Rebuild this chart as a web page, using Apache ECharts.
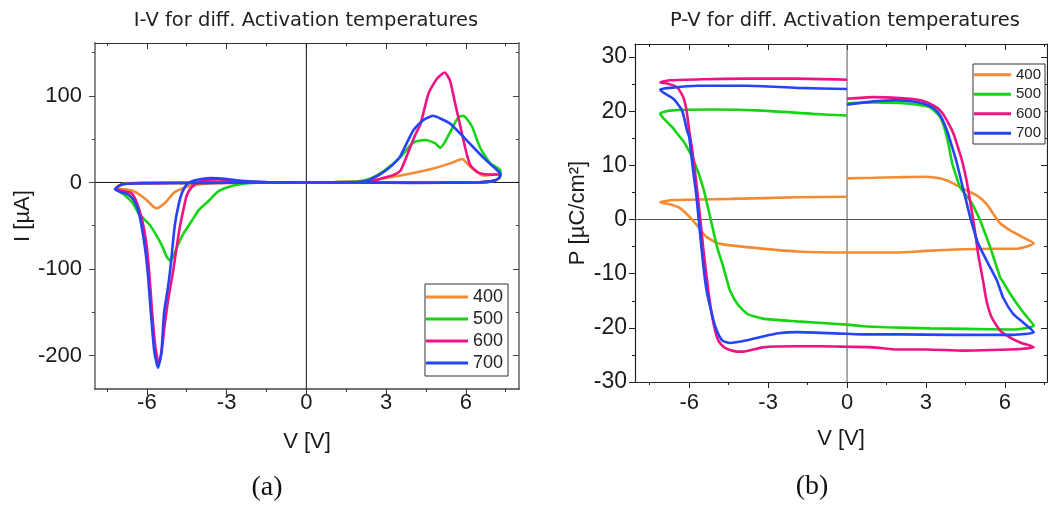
<!DOCTYPE html>
<html><head><meta charset="utf-8">
<script src="https://cdn.jsdelivr.net/npm/echarts@6/dist/echarts.min.js"></script>
<style>html,body{margin:0;padding:0;background:#fff}#c{width:1048px;height:507px}</style>
</head><body><div id="c"></div>
<script>
// ---------- data ----------
const legendNames = ['400', '500', '600', '700'];
const seriesColors = ['#f58a34', '#14d414', '#ef1283', '#2444f5'];

const ivXTicks = [-6, -3, 0, 3, 6];
const ivXMinor = [-7.5, -4.5, -1.5, 1.5, 4.5, 7.5];
const ivYTicks = [-200, -100, 0, 100];
const ivYMinor = [-150, -50, 50, 150];
const ivXRange = [-7.95, 8.0];
const ivYRange = [-238.5, 161];

const pvXTicks = [-6, -3, 0, 3, 6];
const pvXMinor = [-7.5, -4.5, -1.5, 1.5, 4.5, 7.5];
const pvYTicks = [-30, -20, -10, 0, 10, 20, 30];
const pvYMinor = [-25, -15, -5, 5, 15, 25];
const pvXRange = [-8.06, 7.6];
const pvYRange = [-30, 32.4];

// I-V loops [V, I(uA)]
const iv400 = [[0,0],[1,0.3],[2,0.8],[2.5,2],[2.9,5],[3.53,8],[4.2,12],[4.77,16],[5.41,22],[5.86,27],[6.17,18],[6.65,8],[7.0,9],[7.3,10],[7.25,5],[7.0,1.5],[6.5,0.5],[5,0],[3,-0.3],[1,0],[0,0],[-1,0],[-2,-0.2],[-3,-0.3],[-4,-0.5],[-5,-0.5],[-6,-0.5],[-6.5,-0.8],[-6.9,-1.5],[-7.1,-4.5],[-7.15,-7],[-6.8,-8],[-6.44,-11],[-6.1,-18],[-5.92,-23],[-5.75,-28],[-5.62,-30],[-5.45,-27],[-5.3,-23],[-5.1,-16],[-4.94,-11],[-4.57,-6],[-4.3,-3.5],[-3.5,-1],[-2,0],[0,0]];
const iv500 = [[0,0],[1,0.2],[1.6,0.6],[2.0,1.5],[2.45,5],[2.95,14],[3.53,29],[4.02,46],[4.47,49],[4.85,45],[5.04,40],[5.2,46],[5.41,58],[5.71,75],[5.9,77],[6.05,73],[6.24,64],[6.54,40],[6.92,22],[7.3,14],[7.3,10],[7.25,5],[7.0,1.5],[6.5,0],[5,-0.3],[3,0],[1,0],[0,0],[-1,0],[-2,-0.3],[-3,-0.3],[-4,-0.5],[-5,-0.5],[-6,-0.8],[-6.5,-1],[-6.9,-2],[-7.1,-5],[-7.15,-8],[-6.9,-13],[-6.55,-23],[-6.3,-36],[-5.92,-48],[-5.7,-58],[-5.43,-73],[-5.25,-86],[-5.13,-90],[-5.0,-85],[-4.8,-70],[-4.6,-58],[-4.3,-44],[-4.05,-32],[-3.7,-22],[-3.3,-10],[-2.8,-4],[-2.2,-1],[-1.5,0],[0,0]];
const iv600 = [[0,0],[1,0.3],[2,0.5],[2.5,2],[2.9,5],[3.3,9],[3.55,14],[3.9,40],[4.1,55],[4.3,68],[4.6,103],[4.92,120],[5.2,127],[5.4,118],[5.6,91],[5.8,64],[6.0,37],[6.17,20],[6.5,11],[7.0,9],[7.3,9.5],[7.25,5],[7.0,1.5],[6.5,0.2],[5,0],[3,-0.3],[1,0],[0,0],[-1,-0.2],[-2,-0.3],[-3,-0.5],[-4,-0.5],[-5,-0.7],[-6,-0.8],[-6.5,-1],[-6.9,-2],[-7.1,-5],[-7.15,-8],[-6.9,-10],[-6.6,-12],[-6.45,-18],[-6.3,-30],[-6.15,-47],[-6.02,-70],[-5.92,-100],[-5.8,-150],[-5.68,-190],[-5.55,-209],[-5.45,-197],[-5.35,-170],[-5.2,-136],[-5.0,-100],[-4.88,-75],[-4.75,-50],[-4.6,-28],[-4.5,-15],[-4.3,-5],[-4.0,1],[-3.7,3.2],[-3.3,3.5],[-2.8,2.5],[-2.2,1],[-1.5,0.3],[0,0]];
const iv700 = [[0,0],[1.5,0],[2.2,1],[2.7,8],[3.0,14],[3.3,22],[3.53,30],[4.02,60],[4.4,72],[4.77,77],[5.1,73],[5.41,68],[6.05,48],[6.65,29],[7.18,14],[7.3,10],[7.25,5],[7.0,1.5],[6.5,0],[4,-0.5],[2,0],[0,0],[-2,0],[-4,-0.5],[-6,-1],[-6.9,-2],[-7.1,-5],[-7.2,-8],[-7.0,-11],[-6.7,-14],[-6.5,-20],[-6.35,-30],[-6.2,-50],[-6.05,-80],[-5.95,-110],[-5.85,-150],[-5.72,-195],[-5.58,-214],[-5.45,-195],[-5.35,-150],[-5.2,-120],[-5.1,-95],[-4.95,-50],[-4.8,-25],[-4.65,-10],[-4.45,-1],[-4.1,3],[-3.6,5],[-3.0,4],[-2.5,2],[-1.5,0.5],[0,0]];

// P-V loops [V, P(uC/cm2)]
const pv400 = [[0,7.6],[1,7.7],[1.9,7.8],[2.9,7.9],[3.4,7.7],[3.8,7.2],[4.1,6.5],[4.4,5.7],[4.94,4.4],[5.3,2.9],[5.55,1.1],[5.82,-0.7],[6.2,-2],[6.69,-3.3],[7.1,-4.4],[6.46,-5.4],[5.5,-5.4],[4.4,-5.5],[3,-5.8],[1.9,-6.1],[0,-6.1],[-1.9,-5.9],[-3.8,-5.1],[-4.83,-4.5],[-5.32,-3.3],[-5.5,-2.4],[-5.7,-1.1],[-5.97,0.4],[-6.35,2.1],[-6.73,2.8],[-7.1,3.2],[-6.6,3.6],[-4.45,3.8],[-1.9,4.1],[0,4.2]];
const pv500 = [[0,21.5],[1,21.6],[2,21.5],[2.7,21.2],[3.15,20.7],[3.54,18.9],[3.73,16.4],[3.85,14],[4.0,10.3],[4.15,8],[4.3,5.9],[4.5,4.6],[4.68,3.5],[4.9,1.5],[5.06,-0.2],[5.44,-5.1],[5.82,-10.7],[5.9,-11.3],[6.2,-13.7],[6.58,-16.4],[6.84,-18],[7.1,-19.6],[6.31,-20.3],[4.5,-20.2],[3.15,-20.1],[1.5,-19.9],[0.6,-19.7],[0,-19.4],[-1.9,-18.8],[-3.2,-18.3],[-3.8,-17.4],[-4.18,-15.5],[-4.45,-13.1],[-4.56,-11.3],[-4.75,-8],[-4.94,-5.1],[-5.2,0.4],[-5.47,5.9],[-5.78,10.3],[-6.16,14],[-6.54,16.4],[-6.6,16.8],[-7.0,18.8],[-7.1,19.6],[-6.73,20.1],[-5.1,20.3],[-3.2,20.1],[-1.3,19.5],[0,19.2]];
const pv600 = [[0,22.3],[1,22.6],[2,22.4],[2.8,22],[3.3,21],[3.6,19.8],[3.85,17.8],[4.05,15.8],[4.25,12.8],[4.4,10.3],[4.55,7],[4.65,4.1],[4.8,-0.2],[4.9,-3.5],[4.98,-6.3],[5.08,-9],[5.17,-11.3],[5.3,-15],[5.5,-18.1],[5.82,-20.5],[6.2,-21.8],[6.58,-22.7],[7.1,-23.6],[6.58,-23.9],[5.5,-24.1],[4.4,-24.2],[3,-24],[1.9,-24],[1,-23.6],[0,-23.5],[-1,-23.4],[-1.9,-23.4],[-3.2,-23.6],[-3.95,-24.4],[-4.3,-24.3],[-4.6,-23.8],[-4.8,-23],[-4.94,-21.8],[-5.1,-18.6],[-5.24,-14.4],[-5.32,-11.3],[-5.47,-5.1],[-5.6,1.1],[-5.74,7.2],[-5.88,12.7],[-6.0,16.4],[-6.1,20.1],[-6.22,22.5],[-6.46,24.4],[-6.84,25.1],[-7.1,25.3],[-6.73,25.7],[-5.5,25.9],[-3.8,26],[-1.9,26],[0,25.8]];
const pv700 = [[0,21.2],[1,21.8],[1.9,22],[2.5,21.8],[2.9,21.4],[3.3,20.5],[3.54,19.2],[3.8,16.4],[4.0,13.3],[4.18,10.3],[4.4,5.9],[4.55,3],[4.68,0.4],[4.98,-4.4],[5.36,-8.1],[5.7,-11.3],[5.93,-14.4],[6.31,-17.4],[6.69,-19],[7.1,-20.8],[6.31,-21.3],[4,-21.3],[2,-21.2],[0.6,-21.2],[0,-21.1],[-1.9,-20.8],[-2.6,-21],[-3.2,-21.6],[-3.8,-22.3],[-4.45,-22.8],[-4.75,-22.3],[-5.0,-19.9],[-5.2,-16.2],[-5.36,-12.5],[-5.47,-8.2],[-5.6,-2],[-5.72,4.1],[-5.85,9],[-6.0,15.2],[-6.08,16.4],[-6.27,20.1],[-6.6,22.3],[-7.0,23.5],[-7.1,24],[-6.73,24.3],[-5.7,24.7],[-3.8,24.7],[-1.9,24.3],[0,24.1]];

const ivData = [iv400, iv500, iv600, iv700];
const pvData = [pv400, pv500, pv600, pv700];

// ---------- styling / building ----------
const FONT = 'Liberation Sans';

function axisSet(dim, grid, range, majors, minors, s) {
  const pos = dim === 'x' ? ['bottom', 'top'] : ['left', 'right'];
  const base = { type: 'value', gridIndex: grid, min: range[0], max: range[1], splitLine: { show: false }, scale: false };
  const main = Object.assign({}, base, {
    position: pos[0],
    axisLine: { show: true, onZero: false, lineStyle: { color: s.mainColor, width: s.mainWidth } },
    axisTick: { show: true, inside: false, length: 6, customValues: majors, lineStyle: { color: s.tickColor, width: 1 } },
    axisLabel: { show: true, customValues: majors, margin: s.labelMargin, fontSize: s.labelSize, fontFamily: FONT, color: '#1a1a1a' },
    name: s.name, nameLocation: 'middle', nameGap: s.nameGap,
    nameTextStyle: { fontSize: 22, fontFamily: FONT, color: '#1a1a1a' }
  });
  const opp = Object.assign({}, base, {
    position: pos[1],
    axisLine: { show: true, onZero: false, lineStyle: { color: s.oppColor, width: s.oppWidth } },
    axisTick: { show: true, inside: true, length: 6, customValues: majors, lineStyle: { color: s.tickColor, width: 1 } },
    axisLabel: { show: false }
  });
  const mainMinor = Object.assign({}, base, {
    position: pos[0],
    axisLine: { show: false, onZero: false },
    axisTick: { show: true, inside: false, length: 3, customValues: minors, lineStyle: { color: s.tickColor, width: 1 } },
    axisLabel: { show: false }
  });
  const oppMinor = Object.assign({}, base, {
    position: pos[1],
    axisLine: { show: false, onZero: false },
    axisTick: { show: true, inside: true, length: 3, customValues: minors, lineStyle: { color: s.tickColor, width: 1 } },
    axisLabel: { show: false }
  });
  return [main, opp, mainMinor, oppMinor];
}

const xAxes = [].concat(
  axisSet('x', 0, ivXRange, ivXTicks, ivXMinor, { mainColor: '#444', mainWidth: 1.5, oppColor: '#333', oppWidth: 1.2, tickColor: '#333', labelMargin: 3, labelSize: 22, name: 'V [V]', nameGap: 42 }),
  axisSet('x', 1, pvXRange, pvXTicks, pvXMinor, { mainColor: '#222', mainWidth: 1.2, oppColor: '#222', oppWidth: 1.2, tickColor: '#222', labelMargin: 10, labelSize: 22, name: 'V [V]', nameGap: 46 })
);
const yAxes = [].concat(
  axisSet('y', 0, ivYRange, ivYTicks, ivYMinor, { mainColor: '#8a8a8a', mainWidth: 2, oppColor: '#8a8a8a', oppWidth: 2, tickColor: '#444', labelMargin: 13, labelSize: 22, name: 'I [µA]', nameGap: 60 }),
  axisSet('y', 1, pvYRange, pvYTicks, pvYMinor, { mainColor: '#222', mainWidth: 1.2, oppColor: '#222', oppWidth: 1.2, tickColor: '#222', labelMargin: 8, labelSize: 23, name: 'P [µC/cm²]', nameGap: 46 })
);

const series = [];
function zeroLines(xIdx, yIdx, xr, yr, color) {
  series.push({ type: 'line', xAxisIndex: xIdx, yAxisIndex: yIdx, data: [[0, yr[0]], [0, yr[1]]], symbol: 'none', silent: true, z: 1, lineStyle: { color: color, width: 1 }, animation: false });
  series.push({ type: 'line', xAxisIndex: xIdx, yAxisIndex: yIdx, data: [[xr[0], 0], [xr[1], 0]], symbol: 'none', silent: true, z: 1, lineStyle: { color: color, width: 1 }, animation: false });
}
zeroLines(0, 0, ivXRange, ivYRange, '#111');
zeroLines(4, 4, pvXRange, pvYRange, '#555');
legendNames.forEach((n, i) => {
  series.push({ name: n, type: 'line', xAxisIndex: 0, yAxisIndex: 0, data: ivData[i], symbol: 'none', smooth: 0.2, z: 3,
    lineStyle: { color: seriesColors[i], width: 2.6 }, itemStyle: { color: seriesColors[i] } });
});
legendNames.forEach((n, i) => {
  series.push({ name: n, type: 'line', xAxisIndex: 4, yAxisIndex: 4, data: pvData[i], symbol: 'none', smooth: 0.2, z: 3,
    lineStyle: { color: seriesColors[i], width: 2.6 }, itemStyle: { color: seriesColors[i] } });
});

const option = {
  animation: false,
  backgroundColor: '#ffffff',
  grid: [
    { left: 95, top: 43, width: 424, height: 346 },
    { left: 635, top: 44, width: 412, height: 338 }
  ],
  xAxis: xAxes,
  yAxis: yAxes,
  legend: [
    { data: legendNames, orient: 'vertical', left: 425, top: 284, icon: 'rect', itemWidth: 42, itemHeight: 3, itemGap: 2,
      padding: [3, 5, 3, 1], borderColor: '#333', borderWidth: 1, backgroundColor: '#fff', z: 10,
      textStyle: { fontSize: 18, fontFamily: FONT, color: '#222', lineHeight: 20 } },
    { data: legendNames, orient: 'vertical', left: 973, top: 64, icon: 'rect', itemWidth: 37, itemHeight: 3, itemGap: 2,
      padding: [2, 4, 2, 1], borderColor: '#333', borderWidth: 1, backgroundColor: '#fff', z: 10,
      textStyle: { fontSize: 15, fontFamily: FONT, color: '#222', lineHeight: 17.5 } }
  ],
  graphic: [
    { type: 'text', x: 306, y: 21, style: { text: 'I-V for diff. Activation temperatures', font: '19.5px "DejaVu Sans"', fill: '#222', textAlign: 'center', textVerticalAlign: 'middle' } },
    { type: 'text', x: 845, y: 21, style: { text: 'P-V for diff. Activation temperatures', font: '19.5px "DejaVu Sans"', fill: '#222', textAlign: 'center', textVerticalAlign: 'middle' } },
    { type: 'text', x: 267, y: 488, style: { text: '(a)', font: '28px "Liberation Serif"', fill: '#111', textAlign: 'center', textVerticalAlign: 'middle' } },
    { type: 'text', x: 812, y: 487, style: { text: '(b)', font: '28px "Liberation Serif"', fill: '#111', textAlign: 'center', textVerticalAlign: 'middle' } }
  ],
  series: series
};

const chart = echarts.init(document.getElementById('c'), null, { renderer: 'canvas' });
chart.setOption(option);
</script>
</body></html>
